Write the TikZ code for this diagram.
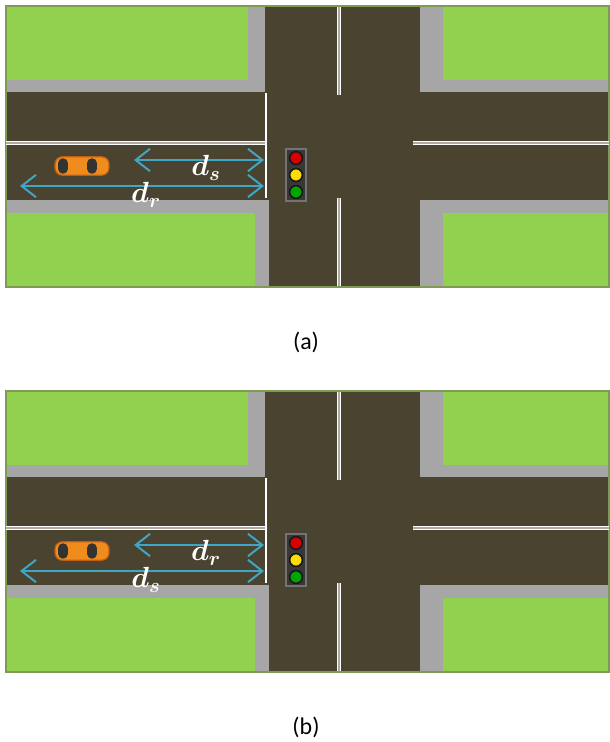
\documentclass[tikz,border=0pt]{standalone}
\usepackage{fontspec}
\setmainfont{Carlito}
\usepackage{amsmath}
\usepackage{xcolor}
\usetikzlibrary{arrows.meta}

\definecolor{road}{HTML}{4A4330}
\definecolor{grass}{HTML}{92D050}
\definecolor{walk}{HTML}{A6A6A6}
\definecolor{rim}{HTML}{7F9A55}
\definecolor{gapc}{HTML}{3FA6C6}
\definecolor{carbody}{HTML}{F08C1E}
\definecolor{caredge}{HTML}{C05E14}

\begin{document}
\begin{tikzpicture}[x=0.25mm, y=-0.25mm,
	lane/.style = {draw=white, line width=0.3mm, double=white!55!road, double distance=0.4mm},
	stopline/.style = {draw=white, line width=0.35mm},
	dist/.style = {draw=gapc, line width=0.5mm, {Straight Barb[length=3.6mm,width=5.6mm]}-{Straight Barb[length=3.6mm,width=5.6mm]}},
	lbl/.style = {text=white, inner sep=0pt, font=\fontsize{22}{22}\selectfont},
	car/.style = {rectangle, rounded corners=1.8mm, fill=carbody, draw=caredge, line width=0.3mm, minimum width=13.5mm, minimum height=4.6mm},
	glass/.style = {rectangle, rounded corners=1.1mm, fill=black!80, minimum width=2.4mm, minimum height=3.8mm, inner sep=0pt},
	signal/.style = {rectangle, fill=black!78, draw=black!55, line width=0.3mm, minimum width=5mm, minimum height=13mm, inner sep=0pt},
	lamp/.style = {circle, draw=black!90, line width=0.4mm, minimum size=3.2mm, inner sep=0pt},
	caption/.style = {font=\fontsize{17}{17}\selectfont}]

	\useasboundingbox (0,0) rectangle (609,742);

	\foreach \p/\dy/\up/\lo in {a/0/s/r, b/385/r/s} {
	\begin{scope}[shift={(0,\dy)}]
		% road and blocks
		\fill[road] (6,6) rectangle (609,287);
		\fill[walk] (6,6) rectangle (265,92);
		\fill[grass] (7,7) rectangle (248,80);
		\fill[walk] (6,200) rectangle (269,287);
		\fill[grass] (7,213) rectangle (255,286);
		\fill[walk] (420,6) rectangle (609,92);
		\fill[grass] (443,7) rectangle (609,80);
		\fill[walk] (420,200) rectangle (609,287);
		\fill[grass] (443,213) rectangle (609,286);
		\draw[rim, line width=0.3mm] (6,6) rectangle (609,287);

		% markings
		\draw[lane] (6,143) -- (266,143);
		\draw[lane] (413,143) -- (609,143);
		\draw[lane] (339,7) -- (339,95);
		\draw[lane] (339,198) -- (339,286);
		\draw[stopline] (266,93) -- (266,198);

		% signal
		\node[signal] (sig-\p) at (296,175) {};
		\node[lamp, fill=red!85!black] (red-\p) at (296,158) {};
		\node[lamp, fill=yellow!80!orange] (amber-\p) at (296,175) {};
		\node[lamp, fill=green!65!black] (green-\p) at (296,192) {};

		% vehicle
		\node[car] (car-\p) at (82,166) {};
		\node[glass] (rear-\p) at (63,166) {};
		\node[glass] (front-\p) at (92,166) {};

		% distances
		\coordinate (near-\p) at (134,160);
		\coordinate (far-\p) at (20,186);
		\coordinate (stopu-\p) at (264,160);
		\coordinate (stopl-\p) at (264,186);
		\draw[dist] (near-\p) -- (stopu-\p);
		\draw[dist] (far-\p) -- (stopl-\p);
		\node[lbl] (du-\p) at (206,168) {$\boldsymbol{d_{\up}}$};
		\node[lbl] (dl-\p) at (146,195) {$\boldsymbol{d_{\lo}}$};

		\node[caption] (cap-\p) at (306,342) {(\p)};
	\end{scope}
	}
\end{tikzpicture}
\end{document}
